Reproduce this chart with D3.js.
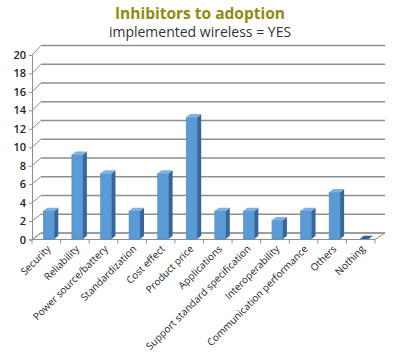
<!DOCTYPE html>
<html><head><meta charset="utf-8">
<script src="https://cdn.jsdelivr.net/npm/d3@7"></script>
<style>
html,body{margin:0;padding:0;background:#fff;}
svg{display:block;}
text{font-family:"Open Sans",sans-serif;}
</style></head>
<body>
<svg id="c" width="400" height="357"></svg>
<script>
const categories = ["Security","Reliability","Power source/battery","Standardization","Cost effect","Product price","Applications","Support standard specification","Interoperability","Communication performance","Others","Nothing"];
const values = [3,9,7,3,7,13,3,3,2,3,5,0];
const yTicks = [0,2,4,6,8,10,12,14,16,18,20];
const title = "Inhibitors to adoption";
const subtitle = "implemented wireless = YES";

const svg = d3.select("#c");
const L = 32, R = 375, DX = 9;
const x = d3.scaleBand().domain(categories).range([L, R]);
const yFront = d3.scaleLinear().domain([0,20]).range([239.5, 55]);
const yBack = d3.scaleLinear().domain([0,20]).range([233, 45.5]);
const yBar = d3.scaleLinear().domain([0,20]).range([239, 51.8]);
const grid = "#8f8f8f";

// floor
svg.append("path")
  .attr("d", `M${L},${yFront(0)}L${R},${yFront(0)}L${R+DX+1},${yBack(0)}L${L+DX},${yBack(0)}Z`)
  .attr("fill","#fafafa").attr("stroke", grid).attr("stroke-width",1);

// back wall gridlines + side wall diagonals
yTicks.forEach(t => {
  svg.append("line").attr("x1", L+DX).attr("x2", R+DX+1)
    .attr("y1", yBack(t)).attr("y2", yBack(t))
    .attr("stroke", grid).attr("stroke-width", 1.3);
  svg.append("line").attr("x1", L).attr("x2", L+DX)
    .attr("y1", yFront(t)).attr("y2", yBack(t))
    .attr("stroke", grid).attr("stroke-width", 1);
});

// y axis
const yAxis = d3.axisLeft(yFront).tickValues(yTicks).tickSize(3).tickPadding(3);
const ga = svg.append("g").attr("transform", `translate(${L},0)`).call(yAxis);
ga.select(".domain").attr("stroke", grid);
ga.selectAll(".tick line").attr("stroke", grid);
ga.selectAll(".tick text").attr("font-size", 11).attr("font-weight", 600).attr("fill", "#222")
  .style("font-family", '"Open Sans",sans-serif');

// x axis ticks
const bounds = d3.range(categories.length + 1).map(i => L + i * x.bandwidth());
svg.selectAll(".xt").data(bounds).enter().append("line")
  .attr("x1", d=>d).attr("x2", d=>d).attr("y1", yFront(0)).attr("y2", yFront(0)+4)
  .attr("stroke", grid);

// bars
const W = 11, D = 4, H = 3.2;
const bars = svg.append("g");
categories.forEach((c, i) => {
  const v = values[i];
  const x0 = x(c) + x.bandwidth()/2 - 3;
  const yt = yBar(v), yb = yBar(0);
  if (v > 0) {
    bars.append("rect").attr("x", x0).attr("y", yt).attr("width", W).attr("height", yb - yt)
      .attr("fill", "#5b9bd5").attr("stroke","#4a86c0").attr("stroke-width",0.5);
    bars.append("path")
      .attr("d", `M${x0+W},${yt}L${x0+W+D},${yt-H}L${x0+W+D},${yb-H}L${x0+W},${yb}Z`)
      .attr("fill", "#35679b");
    bars.append("path")
      .attr("d", `M${x0},${yt}L${x0+D},${yt-H}L${x0+W+D},${yt-H}L${x0+W},${yt}Z`)
      .attr("fill", "#7fb2e3");
  } else {
    bars.append("path")
      .attr("d", `M${x0+2},${yt}L${x0+D+2},${yt-H}L${x0+W+D},${yt-H}L${x0+W},${yt}Z`)
      .attr("fill", "#2f64a0");
  }
});

// x labels
svg.selectAll(".xl").data(categories).enter().append("text")
  .attr("transform", d => `translate(${x(d) + x.bandwidth()/2 + 5},${yFront(0)+10}) rotate(-45)`)
  .attr("text-anchor", "end")
  .attr("font-size", 10).attr("fill", "#222")
  .text(d => d);

// titles
svg.append("text").attr("x", 200).attr("y", 19).attr("text-anchor","middle")
  .attr("font-size", 15.5).attr("font-weight", 700).attr("fill", "#8e8c10").text(title);
svg.append("text").attr("x", 200).attr("y", 37).attr("text-anchor","middle")
  .attr("font-size", 14).attr("fill", "#333").text(subtitle);
</script>
</body></html>
